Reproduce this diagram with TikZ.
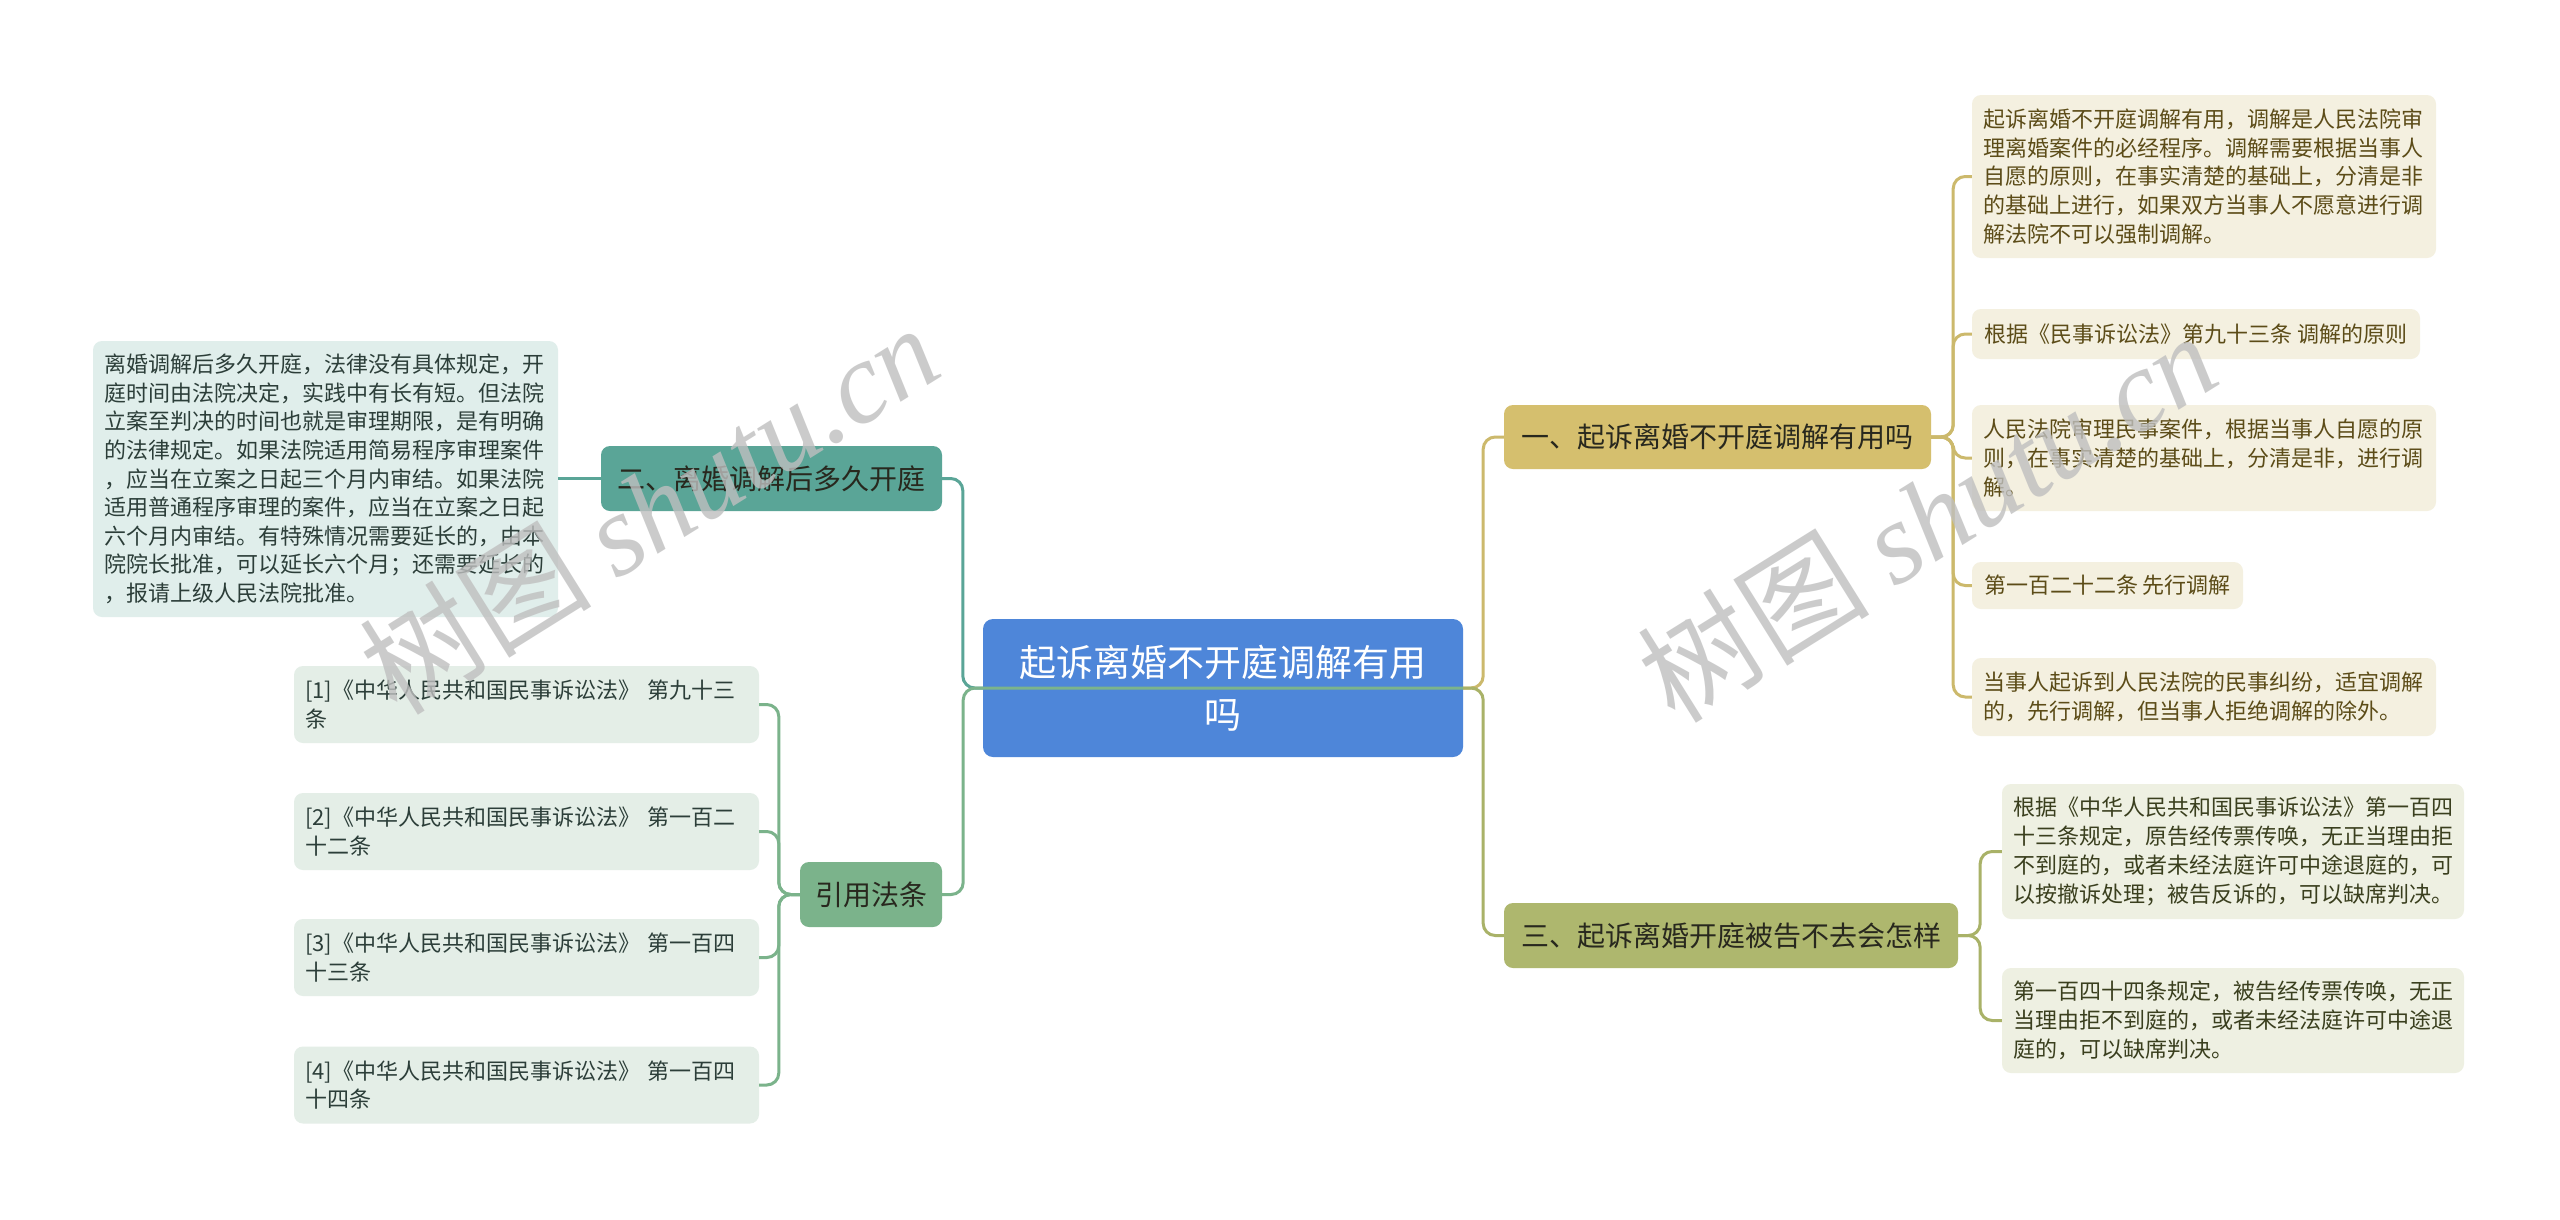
\documentclass[tikz,border=0pt]{standalone}
\usepackage{fontspec}
\setmainfont{Noto Sans CJK SC}
\newfontfamily\wmserif{Liberation Serif}
\definecolor{rootblue}{RGB}{78,134,217}
\definecolor{goldB}{RGB}{213,191,110}
\definecolor{oliveB}{RGB}{174,183,110}
\definecolor{tealB}{RGB}{90,165,151}
\definecolor{greenB}{RGB}{123,179,139}
\definecolor{goldL}{RGB}{204,185,108}
\definecolor{oliveL}{RGB}{169,178,104}
\definecolor{tealL}{RGB}{90,165,151}
\definecolor{greenL}{RGB}{123,179,139}
\definecolor{leafGold}{RGB}{244,240,224}
\definecolor{leafOlive}{RGB}{238,240,226}
\definecolor{leafTeal}{RGB}{224,238,235}
\definecolor{leafGreen}{RGB}{228,238,231}
\definecolor{txtGold}{RGB}{92,76,24}
\definecolor{txtOlive}{RGB}{58,63,30}
\definecolor{txtTeal}{RGB}{44,62,57}
\definecolor{txtDark}{RGB}{40,40,30}
\begin{document}
\begin{tikzpicture}[x=1pt,y=-1pt,
  rootbox/.style={fill=rootblue, text=white, rounded corners=10pt, inner sep=0pt, align=center,
    font=\fontsize{37}{52}\selectfont},
  branch/.style={rounded corners=9pt, inner sep=0pt, align=center, text=txtDark,
    font=\fontsize{28}{34}\selectfont},
  leaf/.style={rounded corners=9pt, inner xsep=11pt, inner ysep=0pt, align=left,
    font=\fontsize{22}{28.8}\selectfont},
  lnk/.style={line width=3pt, rounded corners=12pt},
  wm/.style={text=black!25, opacity=0.8, font=\fontsize{116}{116}\selectfont, inner sep=0pt}
]
\useasboundingbox (0,0) rectangle (2560,1219);
\fill[white] (0,0) rectangle (2560,1219);

% root
\node[rootbox, minimum width=480pt, minimum height=138pt] (root) at (1223,688) {起诉离婚不开庭调解有用\\吗};

% branches
\node[branch, fill=goldB, minimum width=427pt, minimum height=64pt] (b1) at (1717.5,437) {一、起诉离婚不开庭调解有用吗};
\node[branch, fill=oliveB, minimum width=454pt, minimum height=65pt] (b3) at (1731,935.5) {三、起诉离婚开庭被告不去会怎样};
\node[branch, fill=tealB, minimum width=341pt, minimum height=65pt] (b2) at (771.5,478.5) {二、离婚调解后多久开庭};
\node[branch, fill=greenB, minimum width=142pt, minimum height=65pt] (bref) at (871,894.5) {引用法条};

% leaves of branch 1
\node[leaf, fill=leafGold, text=txtGold, minimum width=464pt, minimum height=163pt, text width=442pt] (L1) at (2204,176.5)
 {起诉离婚不开庭调解有用，调解是人民法院审\\理离婚案件的必经程序。调解需要根据当事人\\自愿的原则，在事实清楚的基础上，分清是非\\的基础上进行，如果双方当事人不愿意进行调\\解法院不可以强制调解。};
\node[leaf, fill=leafGold, text=txtGold, minimum width=448pt, minimum height=50pt] (L2) at (2196,334)
 {根据《民事诉讼法》第九十三条 调解的原则};
\node[leaf, fill=leafGold, text=txtGold, minimum width=464pt, minimum height=106pt, text width=442pt] (L3) at (2204,458)
 {人民法院审理民事案件，根据当事人自愿的原\\则，在事实清楚的基础上，分清是非，进行调\\解。};
\node[leaf, fill=leafGold, text=txtGold, minimum width=271pt, minimum height=47pt] (L4) at (2107.5,585.5)
 {第一百二十二条 先行调解};
\node[leaf, fill=leafGold, text=txtGold, minimum width=464pt, minimum height=78pt, text width=442pt] (L5) at (2204,697)
 {当事人起诉到人民法院的民事纠纷，适宜调解\\的，先行调解，但当事人拒绝调解的除外。};

% leaves of branch 3
\node[leaf, fill=leafOlive, text=txtOlive, minimum width=462pt, minimum height=135pt, text width=440pt] (M1) at (2233,851.5)
 {根据《中华人民共和国民事诉讼法》第一百四\\十三条规定，原告经传票传唤，无正当理由拒\\不到庭的，或者未经法庭许可中途退庭的，可\\以按撤诉处理；被告反诉的，可以缺席判决。};
\node[leaf, fill=leafOlive, text=txtOlive, minimum width=462pt, minimum height=105pt, text width=440pt] (M2) at (2233,1020.5)
 {第一百四十四条规定，被告经传票传唤，无正\\当理由拒不到庭的，或者未经法庭许可中途退\\庭的，可以缺席判决。};

% leaf of branch 2
\node[leaf, fill=leafTeal, text=txtTeal, minimum width=465pt, minimum height=276pt, text width=443pt,
  font=\fontsize{22}{28.6}\selectfont] (T1) at (325.5,479)
 {离婚调解后多久开庭，法律没有具体规定，开\\庭时间由法院决定，实践中有长有短。但法院\\立案至判决的时间也就是审理期限，是有明确\\的法律规定。如果法院适用简易程序审理案件\\，应当在立案之日起三个月内审结。如果法院\\适用普通程序审理的案件，应当在立案之日起\\六个月内审结。有特殊情况需要延长的，由本\\院院长批准，可以延长六个月；还需要延长的\\，报请上级人民法院批准。};

% references
\node[leaf, fill=leafGreen, text=txtTeal, minimum width=465pt, minimum height=77pt, text width=443pt] (r1) at (526.5,704.5)
 {[1]《中华人民共和国民事诉讼法》 第九十三\\条};
\node[leaf, fill=leafGreen, text=txtTeal, minimum width=465pt, minimum height=77pt, text width=443pt] (r2) at (526.5,831.5)
 {[2]《中华人民共和国民事诉讼法》 第一百二\\十二条};
\node[leaf, fill=leafGreen, text=txtTeal, minimum width=465pt, minimum height=77pt, text width=443pt] (r3) at (526.5,957.5)
 {[3]《中华人民共和国民事诉讼法》 第一百四\\十三条};
\node[leaf, fill=leafGreen, text=txtTeal, minimum width=465pt, minimum height=77pt, text width=443pt] (r4) at (526.5,1085)
 {[4]《中华人民共和国民事诉讼法》 第一百四\\十四条};

% connectors: right side
\draw[lnk, draw=goldL] (root.east) -- ++(20,0) |- (b1.west);
\draw[lnk, draw=oliveL] (root.east) -- ++(20,0) |- (b3.west);
\foreach \n in {L1,L2,L3,L4,L5}
  \draw[lnk, draw=goldL] (b1.east) -- ++(22,0) |- (\n.west);
\foreach \n in {M1,M2}
  \draw[lnk, draw=oliveL] (b3.east) -- ++(22,0) |- (\n.west);

% connectors: left side
\draw[lnk, draw=tealL] (root.west) -- ++(-20,0) |- (b2.east);
\draw[lnk, draw=greenL] (root.east) -- ++(-500,0) |- (bref.east);
\draw[lnk, draw=tealL] (b2.west) -- (b2.west -| T1.east);
\foreach \n in {r1,r2,r3,r4}
  \draw[lnk, draw=greenL] (bref.west) -- ++(-21,0) |- (\n.east);

% watermarks
\node[wm, rotate=32] (wmA) at (649,508) {树图 {\wmserif\itshape shutu.cn}};
\node[wm, rotate=32] (wmB) at (1927,516) {树图 {\wmserif\itshape shutu.cn}};
\end{tikzpicture}
\end{document}
